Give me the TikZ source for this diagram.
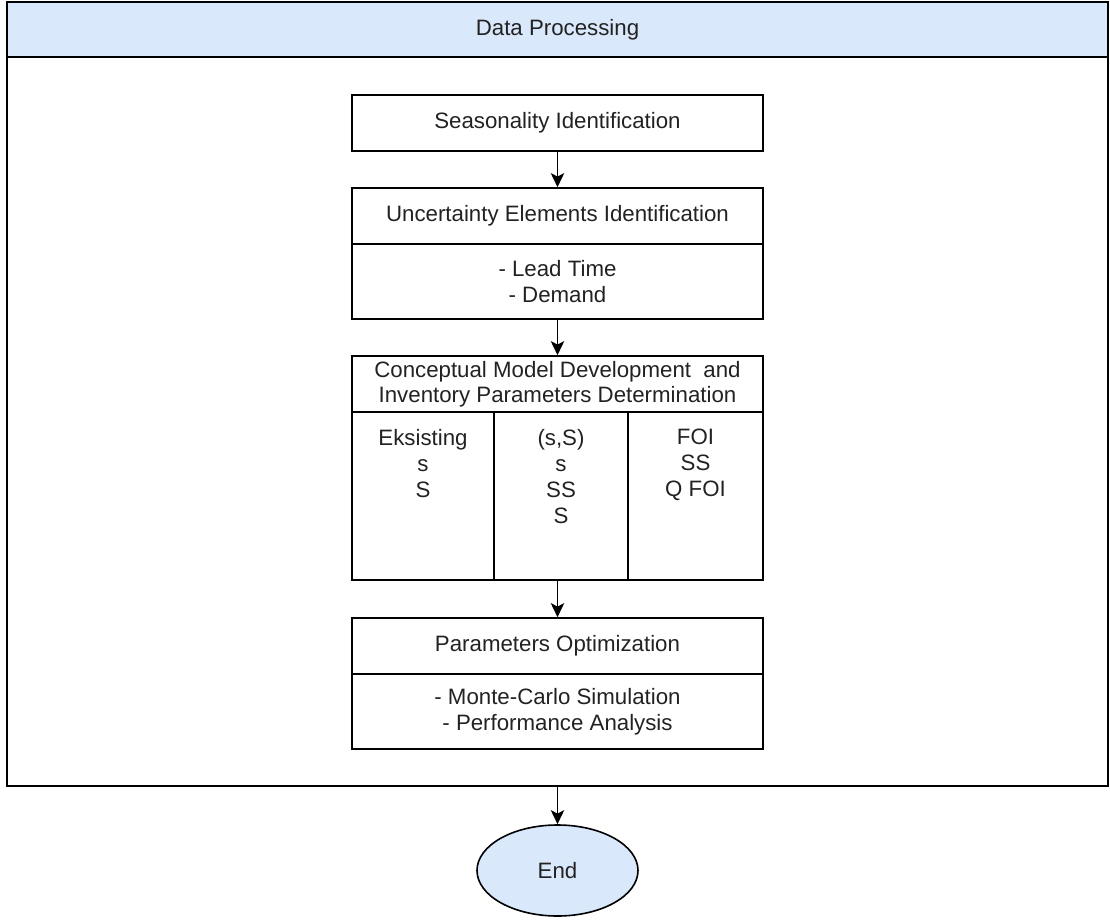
\documentclass[tikz,border=0pt]{standalone}
\usepackage{fontspec}
\setmainfont{Liberation Sans}
\usetikzlibrary{arrows.meta,shapes.geometric}
\newcommand{\pxu}{0.75pt}
\definecolor{headblue}{HTML}{DAE8FC}
\definecolor{txt}{HTML}{222222}
\begin{document}
\begin{tikzpicture}[x=0.75pt,y=-0.75pt,
  every node/.style={font=\fontsize{16.7}{19.5}\selectfont, text=txt, inner sep=0pt},
  box/.style={draw=black, line width=1.2pt, rectangle, minimum width=411*\pxu, align=center},
  colbox/.style={draw=black, line width=1.2pt, rectangle, minimum height=168*\pxu},
  coltext/.style={anchor=north, align=center},
  flow/.style={line width=1.2pt, -{Stealth[length=10.5pt,width=10pt,inset=2.5pt]}}]
\useasboundingbox (0,0) rectangle (1110,920);

% outer swimlane with its header bar
\node[draw=black, line width=1.4pt, minimum width=1101*\pxu, minimum height=784*\pxu] (dp) at (557.5,394) {};
\node[draw=black, line width=1.4pt, fill=headblue, minimum width=1101*\pxu, minimum height=55*\pxu] (dphead) at (557.5,29.5) {Data Processing};

% process steps
\node[box, minimum height=56*\pxu] (seas) at (557.5,123) {Seasonality Identification};

\node[box, minimum height=56*\pxu] (unchead) at (557.5,216) {Uncertainty Elements Identification};
\node[box, minimum height=75*\pxu] (uncbody) at (557.5,281.5) {- Lead Time\\- Demand};

\node[box, minimum height=56*\pxu, font=\fontsize{16.7}{18.8}\selectfont] (conchead) at (557.5,384) {Conceptual Model Development\ \ and\\Inventory Parameters Determination};
\node[colbox, minimum width=142*\pxu] (col1) at (423,496) {};
\node[colbox, minimum width=134*\pxu] (col2) at (561,496) {};
\node[colbox, minimum width=135*\pxu] (col3) at (695.5,496) {};
\node[coltext] (col1t) at (423,429) {Eksisting\\s\\S};
\node[coltext] (col2t) at (561,429) {(s,S)\\s\\SS\\S};
\node[coltext] (col3t) at (695.5,429) {FOI\\SS\\Q FOI};

\node[box, minimum height=56*\pxu] (parhead) at (557.5,646) {Parameters Optimization};
\node[box, minimum height=75*\pxu] (parbody) at (557.5,711.5) {- Monte-Carlo Simulation\\- Performance Analysis};

\node[ellipse, draw=black, line width=1.2pt, fill=headblue, minimum width=161*\pxu, minimum height=91*\pxu] (end) at (557.5,870.5) {End};

% connectors
\draw[flow] (seas.south) -- (unchead.north);
\draw[flow] (uncbody.south) -- (conchead.north);
\draw[flow] (col2.south -| conchead.center) -- (parhead.north);
\draw[flow] (dp.south) -- (end.north);
\end{tikzpicture}
\end{document}
